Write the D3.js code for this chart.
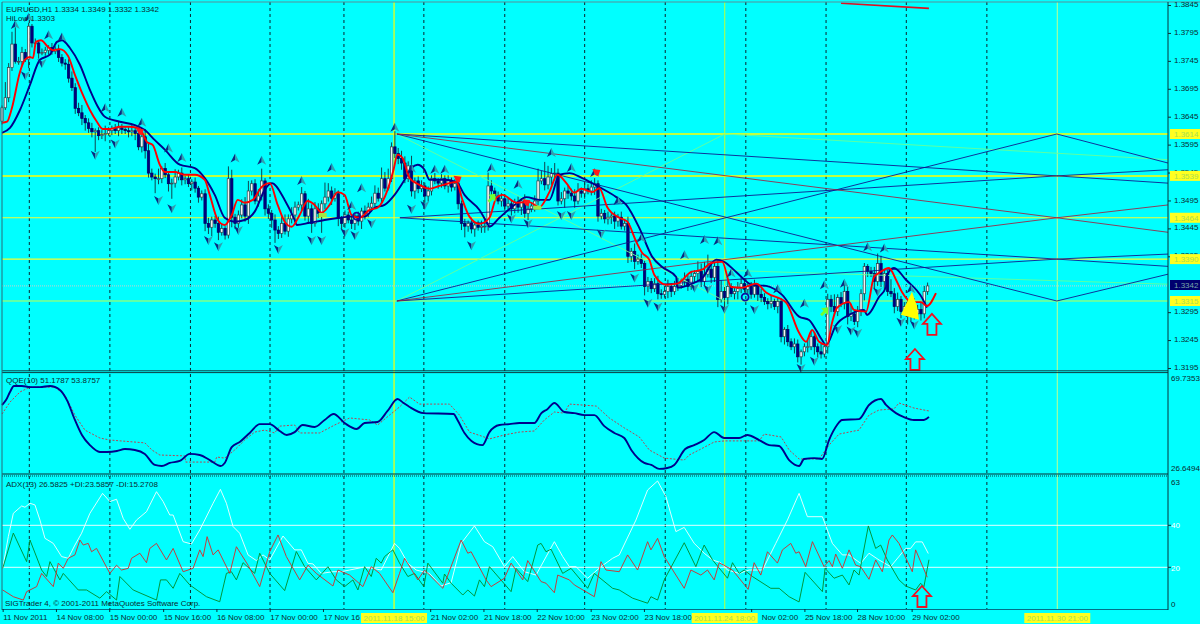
<!DOCTYPE html>
<html><head><meta charset="utf-8">
<script src="https://cdn.jsdelivr.net/npm/d3@7/dist/d3.min.js"></script>
<style>
html,body{margin:0;padding:0;background:#00ffff;overflow:hidden}
svg{display:block}
text{font-family:"Liberation Sans",Arial,sans-serif;font-size:8px;fill:#0b2b30}
</style></head><body><svg id="c" width="1200" height="624"></svg>
<script>
// Prices are in pips above 1.3000
const closes=[661,679,733,775,744,744,760,748,807,777,777,759,760,764,769,762,766,751,741,739,714,697,660,652,642,634,624,618,620,611,613,615,620,624,620,625,622,620,618,620,615,591,609,584,544,537,534,534,552,541,525,526,537,544,532,534,525,528,517,501,507,454,447,460,454,438,445,433,534,465,454,469,487,467,512,525,494,503,530,480,472,460,442,436,454,440,462,469,483,487,507,467,480,454,480,472,489,501,512,499,507,463,454,469,460,454,467,458,476,471,483,490,508,499,534,517,534,591,579,570,562,534,557,512,530,516,521,503,512,534,530,526,534,521,530,519,525,489,454,449,454,444,451,447,449,449,521,512,503,494,498,485,489,480,492,483,494,472,480,485,494,530,534,523,537,543,544,494,498,512,508,503,494,512,508,516,512,519,525,467,472,462,465,467,458,465,449,454,395,404,386,390,382,341,350,337,346,328,327,332,341,332,341,343,350,354,341,359,364,368,350,363,372,357,377,318,332,321,341,328,332,337,346,336,341,327,341,327,321,314,310,314,305,314,251,264,242,233,238,215,224,233,233,251,233,224,220,233,318,305,296,321,310,332,287,292,278,296,328,377,368,364,350,382,350,364,332,328,305,318,296,305,287,314,292,300,292,332,342];
const opens=[637,661,679,733,775,744,744,760,748,807,777,777,759,760,764,769,762,766,751,741,739,714,697,660,652,642,634,624,618,620,611,613,615,620,624,620,625,622,620,618,620,615,591,609,584,544,537,534,534,552,541,525,526,537,544,532,534,525,528,517,501,507,454,447,460,454,438,445,433,534,465,454,469,487,467,512,525,494,503,530,480,472,460,442,436,454,440,462,469,483,487,507,467,480,454,480,472,489,501,512,499,507,463,454,469,460,454,467,458,476,471,483,490,508,499,534,517,534,591,579,570,562,534,557,512,530,516,521,503,512,534,530,526,534,521,530,519,525,489,454,449,454,444,451,447,449,449,521,512,503,494,498,485,489,480,492,483,494,472,480,485,494,530,534,523,537,543,544,494,498,512,508,503,494,512,508,516,512,519,525,467,472,462,465,467,458,465,449,454,395,404,386,390,382,341,350,337,346,328,327,332,341,332,341,343,350,354,341,359,364,368,350,363,372,357,377,318,332,321,341,328,332,337,346,336,341,327,341,327,321,314,310,314,305,314,251,264,242,233,238,215,224,233,233,251,233,224,220,233,318,305,296,321,310,332,287,292,278,296,328,377,368,364,350,382,350,364,332,328,305,318,296,305,287,314,292,300,292,332];
const upperWicks=[4,28,8,22,30,8,10,6,6,4,8,5,7,6,4,8,5,8,6,7,9,12,8,10,14,6,8,10,4,6,8,14,6,5,8,12,7,4,6,10,6,8,5,14,12,8,6,18,4,10,6,8,14,6,10,5,8,5,8,4,6,8,10,6,7,12,8,4,22,16,6,8,10,14,18,6,8,12,22,5,8,6,10,7,12,16,8,14,10,6,12,5,18,8,12,10,6,26,14,8,10,6,4,8,6,10,5,8,6,10,8,12,14,10,20,12,18,8,28,10,14,12,8,18,6,8,10,6,8,6,10,5,8,6,10,6,8,10,6,8,5,10,4,8,10,14,24,10,6,8,10,6,12,8,6,10,5,12,8,6,10,22,14,30,20,10,18,8,12,6,10,8,12,14,6,10,8,12,10,6,8,6,10,5,8,6,10,8,12,6,14,8,10,5,8,6,10,14,8,10,12,6,10,14,6,12,8,10,6,18,14,22,26,12,8,10,20,8,10,6,8,12,14,10,6,8,12,6,10,8,6,10,5,8,6,4,8,6,10,8,4,6,12,10,8,6,14,6,10,8,22,6,10,14,8,18,6,10,8,6,4,8,12,18,14,8,6,22,10,12,6,8,14,10,6,8,12,10,6,12,8,6,8];
const lowerWicks=[6,4,8,6,4,6,8,5,16,8,6,10,4,6,8,6,5,8,6,10,8,6,10,6,12,14,8,10,36,8,6,12,4,8,6,10,8,6,10,8,12,6,10,14,8,6,26,10,8,6,14,27,8,6,10,8,6,12,8,10,6,14,12,16,8,14,6,8,6,18,10,8,6,10,14,8,6,10,8,12,10,14,23,10,8,6,10,8,12,6,10,8,14,17,6,8,35,10,8,12,6,14,10,8,6,10,12,8,14,10,6,8,10,6,8,6,4,6,8,10,12,8,6,10,14,8,6,12,10,8,6,10,8,6,12,8,6,10,12,20,10,8,14,6,10,12,8,14,8,6,10,8,6,12,8,10,14,8,12,6,10,8,6,10,8,14,12,8,6,16,10,8,12,6,8,10,6,8,14,10,6,8,10,12,14,10,6,8,12,10,14,6,8,16,10,8,6,10,8,6,12,10,6,8,6,10,8,6,12,14,10,8,6,10,8,14,6,22,12,6,10,14,8,6,10,8,6,12,8,6,10,8,6,12,10,14,8,6,12,10,14,8,10,6,14,10,8,6,12,10,6,8,6,10,14,8,6,10,8,12,10,6,14,8,10,14,8,6,12,8,12,6,14,8,10,6,12,8,6];
const upFractalBars=[4,8,14,18,31,36,42,50,54,70,78,90,99,105,108,118,123,130,133,147,155,165,171,178,185,192,205,211,215,219,224,233,241,247,253,260,265,273];
const upFractalPips=[809,822,791,787,660,652,634,588,571,570,566,530,553,485,517,625,552,550,550,553,523,580,553,544,494,427,397,424,422,364,364,336,310,343,346,411,409,336];
const downFractalBars=[7,12,28,34,47,51,62,65,71,83,93,96,103,106,111,123,127,141,153,158,168,171,180,190,194,197,208,212,217,226,240,244,251,255,257,263,270,274];
const downFractalPips=[719,741,577,597,496,481,424,413,442,408,424,424,438,433,454,480,487,415,463,454,469,469,436,357,312,305,339,337,301,300,195,208,265,262,258,332,278,273];
const fastBars=[0,1.5,3,5.4,6.9,8.4,9.3,10.2,11.7,13.8,15.3,17.4,19.8,21.9,24.3,26.4,28.5,30.3,32.4,35.4,38.4,41.4,43.5,45.3,47.4,48.9,51.9,54.9,57.9,60.9,62.4,64.8,66.9,69,70.8,72.9,75.3,78,80.4,82.8,84.9,87,89.4,91.8,93.9,96,98.4,100.8,102.9,105,107.4,110.4,112.8,115.8,117.6,118.8,120.3,122.4,125.4,128.4,131.4,136.5,138.3,140.4,143.4,146.4,148.5,150.3,154.5,158.4,161.4,164.4,166.8,169.5,171.9,174,177.3,179.4,181.8,185.4,187.8,190.5,192.3,194.4,195.9,199.5,202.8,207,210.3,213,216.3,219,222.3,226.5,229.5,235.5,239.4,241.5,243.3,245.4,247.8,249.3,250.8,254.4,255.9,259.5,261.9,263.4,266.4,268.5,270.3,273.3,276,277.8,280.5];
const fastPips=[634,636,661,725,747,752,750,779,782,770,764,766,754,720,684,657,636,623,623,627,627,623,600,594,559,546,546,541,541,532,505,460,451,469,496,491,496,519,526,487,457,448,469,494,487,473,487,510,505,469,464,478,482,514,550,577,571,535,523,516,521,528,496,466,453,464,500,505,491,492,483,510,541,526,509,516,510,517,483,464,457,421,401,389,362,344,346,367,371,383,385,340,339,346,330,312,258,242,263,242,236,276,303,313,299,296,358,365,374,353,331,313,313,306,329];
const slowBars=[0,2.4,5.4,8.4,11.4,14.4,16.5,18,20.4,23.4,26.4,28.5,30.9,35.4,39.9,42.9,45.9,48.9,53.4,57.9,60.9,63.9,66.9,69.9,72.9,75.9,78.9,81,84.9,87.9,88.5,92.4,96.9,101.4,104.4,108.9,111.9,114.9,117.9,120.9,123,124.8,126.9,128.4,132.9,136.5,138.9,143.4,145.5,146.4,149.4,153.9,157.5,161.4,164.4,167.4,170.4,174.3,179.4,184.5,187.5,191.4,195.3,198.3,202.5,202.8,206.4,210.3,214.5,216.9,220.5,225.3,229.5,234.3,239.4,242.4,244.5,246.3,247.5,250.5,254.4,258.9,259.8,263.4,265.5,265.6,267.9,271.5,276.3,277.8];
const slowPips=[616,625,657,702,747,756,779,782,768,738,693,666,645,636,630,621,603,586,559,553,535,505,464,457,460,475,514,526,496,460,451,455,460,464,466,466,482,487,505,532,553,559,550,532,532,528,505,478,457,448,464,487,501,496,496,541,544,535,519,501,487,446,394,376,358,339,344,356,389,385,367,344,342,326,287,281,263,245,236,272,290,299,290,322,340,358,374,353,321,303];
const qqeBars=[0,1.2,2.4,3.6,6,8.4,11.4,14.4,17.4,19.5,21.9,24,26.4,29.4,31.5,34.5,36.9,39.9,42.9,45.9,48,50.4,53.4,56.4,59.4,62.4,65.7,66.9,69,71.4,74.4,77.4,80.4,83.4,85.5,87.9,90.3,93.9,96.9,99.6,102.9,106.5,108.9,112.8,115.8,118.8,120.6,122.4,126.6,135.6,136.8,138.9,141,144.3,146.4,149.4,152.4,155.4,159.9,162,163.8,165.9,168.9,171.9,174.9,177.9,180.9,183.9,186.9,189,192.9,195,197.4,199.8,201.9,205.2,207.9,210.9,213.9,216.9,221.4,223.8,227.4,230.4,233.4,236.4,239.4,240.9,243.9,246.3,248.4,250.8,252.3,257.4,260.4,264,265.5,268.5,270.9,273.9,276.9,278.4];
const qqeValues=[56.6,58.8,62.5,65.2,65.2,64.7,64.7,65.2,63.4,58.8,49.8,43,38.4,35.3,35.3,35.7,36.6,36.2,34.4,29.4,28.9,30.3,31.2,34.4,33.9,31.6,28.9,30.3,37.5,39.8,43.9,47.9,47.9,44.8,43,44.3,47.5,46.6,49.8,52.5,48.4,45.7,48.4,48.9,53.9,59.3,57.5,55.7,52.9,52.5,49.8,43.9,40.3,38.4,44.3,47.5,47.9,48.4,48.4,52.9,54.7,57.5,53.4,52.9,52,52,47,43.9,41.6,36.2,30.3,29.4,27.6,28,29.4,36.6,38.4,40.7,44.3,41.6,41.6,43,40.7,38.4,38,31.6,28.9,32.1,32.5,32.1,40.7,47.5,49.8,50.2,56.6,59.3,56.6,52.9,51.1,49.8,49.8,51.18];
const qqeSignalBars=[0,2.4,5.4,8.4,15.9,18.9,21.9,24.9,29.4,32.4,42.9,45,47.4,54.9,55.2,63.9,64.5,66.9,69.9,72.9,75.9,78.9,81.9,83.4,87.9,89.4,95.4,99.9,104.4,110.4,112.8,116.4,119.4,122.4,125.4,134.4,137.4,140.4,144,146.4,150.9,155.4,159.9,162.9,165.9,168.9,170.4,178.5,182.4,186.9,191.4,194.4,198.9,204.9,206.4,209.4,213.9,216.9,227.4,228.9,234,236.4,239.4,245.4,248.4,251.4,257.4,260.4,263.4,267.9,269.4,273.9,278.4];
const qqeSignalValues=[52.5,57.9,62.5,64.7,64.7,61.1,52,45.2,41.6,40.7,39.4,36.2,33.9,33.5,30.7,30.7,33,32.5,36.2,40.7,44.3,45.2,43.9,47,47.5,43.9,43.9,47.5,50.7,49.8,47.5,52,55.7,60.2,57,57,52,44.3,42.5,41.2,43,44.3,44.8,49.8,53.4,52.9,57,56.1,50.7,46.2,42.1,36.2,32.5,31.6,33.9,36.2,39.8,40.3,40.3,43.4,42.1,36.2,32.1,32.1,38.4,43.4,45.2,52,54.3,54.8,57.5,55.2,53.88];
const adxBars=[.2,1.9,3.4,5.9,6.9,8.4,9.9,11.4,12.9,15.4,17.9,19.9,21.9,23.9,26.4,30.2,32.4,34.4,36.4,38.4,40.4,43.4,46.4,48.4,50.4,51.4,54.4,56.9,59.4,63.4,65.6,67.4,69.4,71.4,73.9,76.4,78.4,80.4,84.4,87.9,89.9,91.9,93.4,95.9,99.4,101.9,104.4,108.4,111.4,113.9,115.9,117.9,119.4,121.9,124.4,128.4,131.9,134.9,137.9,141.9,144.9,147.4,150.9,153.4,156.9,160.4,165.9,168.4,170.4,172.4,175.9,179.9,183.4,185.4,190.4,193.9,196.9,199.4,202.4,204.9,207.9,210.9,213.4,215.9,217.9,221.4,224.4,228.4,232.4,235.9,239.4,241.9,246.4,249.4,252.4,254.4,257.9,260.4,263.4,266.9,271.4,272.9,274.4,276.4,278.2];
const adxValues=[19.5,34.6,45.7,49.2,48.6,50.5,49.7,42.5,33.8,31.4,25.1,24.3,30.6,36.2,45.7,55.2,51.3,52.4,43.3,38.1,42.5,46.5,56,51.3,44.9,44.9,32.2,31.1,37.8,50.5,57.1,50.5,39.4,36.2,25.9,23.2,25.9,23.5,34.9,28.3,28.3,21.9,21.6,17.1,17.9,17.9,18.7,20,19.5,18.7,25.1,31.4,29,21.9,18.7,17.1,11.1,12.7,31.4,39.7,32.2,29.8,20.3,25.1,17.9,16.3,32.2,25.1,20.3,20.3,14.8,20.3,24.3,25.9,42.5,56.8,61.1,53.7,37,39,31.4,26.7,23.5,22.2,18.7,17.1,18.7,18.7,31.4,42.5,55.2,44.1,44.1,31.4,25.9,25.9,21.9,26.7,23.5,20.3,29,29,32.1,32.1,26.58];
const minusDiBars=[.2,3.4,6.4,7.4,10.4,11.9,15.4,16.9,18.4,19.9,21.9,23.4,24.4,25.9,26.9,28.4,32.4,34.4,35.9,37.9,38.9,41.4,43.4,44.4,46.4,49.4,51.4,54.4,57.4,59.4,60.4,61.6,63.4,64.9,68.4,70.4,73.9,77.4,80.4,82.9,85.4,89.4,91.9,94.4,99.4,100.9,104.4,108.4,110.9,113.4,117.4,119.4,120.9,124.9,126.9,132.4,137.9,139.9,140.9,145.4,146.9,150.9,152.9,156.4,157.9,161.9,163.4,165.9,166.9,170.4,171.9,177.9,179.9,181.4,185.4,187.9,190.9,193.9,194.9,196.9,198.9,204.9,206.9,209.9,211.9,213.9,215.4,219.4,224.1,225.9,227.9,229.9,232.9,234.4,236.9,238.4,239.4,241.4,243.4,246.9,248.4,249.4,250.4,252.4,254.4,256.4,257.9,260.4,262.4,264.4,266.4,267.4,269.4,273.4,274.4,277.9];
const minusDiValues=[9.2,6,4.4,8.4,10.8,17.1,10.8,22,19.5,24.3,25.9,33,30.6,31.4,27.4,29,17.1,21,18.7,19.5,24.3,26.7,22.2,29,31.4,23.5,29,17.9,19.5,28.3,25.1,34.6,25.9,28.3,17.1,29.8,21,10.8,27.4,35.4,25.1,14,21,17.1,11.1,18.7,16.3,10.8,20.3,17.1,7.9,17.1,24.3,14,18.7,10,33,26.7,27.4,14,10.8,14.8,22,14,23.2,13.2,12.4,7.9,16.3,14,11.6,6,22.7,18.7,17.9,25.9,18.7,32.2,28.3,33.8,25.1,10,18.7,16.3,18.7,14,22.2,18.7,9.5,22.2,16.3,27.4,22,28.3,31.4,26.7,27.4,20.3,32.2,20.3,23.2,20.3,26.3,19.5,28.3,21,20.3,14.3,23.5,17.9,33,35.4,31.4,17.9,28.3,15.27];
const plusDiBars=[.2,3.4,7.4,8.4,11.9,13.4,14.4,17.4,18.4,22.9,25.4,29.4,31.4,34.4,35.4,39.4,46.4,47.6,49.4,51.4,53.4,56.4,61.4,65.4,67.4,68.9,70.4,72.4,75.9,77.4,80.4,84.9,88.4,90.9,94.4,97.9,100.4,102.9,105.4,106.9,108.9,110.9,112.4,113.9,114.9,117.4,119.4,121.9,123.9,126.7,127.9,132.4,132.9,134.9,138.4,139.9,141.9,143.4,144.9,146.4,152.9,154.4,157.9,160.9,161.9,163.4,164.9,168.4,170.9,175.9,177.9,183.4,185.4,189.4,193.9,194.9,196.9,198.9,204.9,208.4,209.9,210.9,213.4,217.9,219.4,221.4,222.9,225.4,230.9,233.4,236.4,239.4,241.2,246.4,247.2,249.9,252.4,254.4,255.9,257.4,260.2,262.4,263.9,265.9,269.4,271.4,274.4,275.9,276.9,278.4];
const plusDiValues=[19.5,36.3,22.7,33,18.7,15.6,22.7,14,17.1,9.2,9.2,5.3,8.4,4.4,15.6,9.2,4.4,14,14,10,17.1,11.6,6,3.6,17.1,17.9,14,22.2,17.1,26.7,17.1,8.9,27.5,20.3,14,20.3,14,10.8,14,9.2,20.3,15.6,24.3,22,25.1,28.3,22,15.6,17.1,10.8,22,12.4,16.8,12.4,6.8,9.2,6.3,14,10.8,20.3,8.4,19.5,13.2,30.6,31.4,27.4,28.6,17.1,19.5,10,17.1,10,9.2,5.3,2.9,6,4.4,14,31.7,20.3,26.7,30.6,23.5,14.8,22.2,17.1,18.7,15.6,10,10,6,3.5,17.6,8.4,19.5,14.8,16.3,11.6,18.7,16.3,39.7,29,30.6,23.5,14,11.1,9.2,12.4,10.8,23.59];
const separatorBars=[8.2,32.4,56.6,80.5,102.7,126.7,151,175,199.2,223.4,247.5,271.6,295.8];
const levels=[1.3614,1.3539,1.3464,1.3390,1.3315];
const lastPrice=1.3342;
const priceTicks=[1.3845,1.3795,1.3745,1.3695,1.3645,1.3595,1.3545,1.3495,1.3445,1.3395,1.3295,1.3245,1.3195];
const timeTickBars=[.2,16.2,32.2,48.4,64.4,80.4,96.4,128.6,144.6,160.6,176.8,192.8,225,241,256.8,273.2];
const timeTickLabels=["11 Nov 2011","14 Nov 08:00","15 Nov 00:00","15 Nov 16:00","16 Nov 08:00","17 Nov 00:00","17 Nov 16","21 Nov 02:00","21 Nov 18:00","22 Nov 10:00","23 Nov 02:00","23 Nov 18:00","Nov 02:00","25 Nov 18:00","28 Nov 10:00","29 Nov 02:00"];
const flagBars=[117.6,216.9,316.8];
const flagLabels=["2011.11.18 15:00","2011.11.24 18:00","2011.11.30 21:00"];
const flagColors=["#ffff00","#9dff5a","#f4ff70"];
// Trend lines: each is bars + pips vertices
const fanBars=[118.6,316.8,350.2], fanBarsB=[119.5,316.8,350.2];
const navyFan=[[315,614,562],[614,315,363],[614,539,550],[315,390,399]];
const navyFanB=[[464,390,377],[464,539,526]];
const redFan=[[614,464,438],[315,464,487]];
const greenBars=[[118.6,217.1],[118.6,217.1],[217.1,350.2],[217.1,350.2]];
const greenPips=[[315,614],[614,315],[614,568],[370,345]];
const topRedBars=[252,278.4], topRedPips=[848,839];
const redMarkBars=[41.4,136.8,178.5,157.5], redMarkPips=[619,534,546,492];
const greenArrowBars=[147,246.9], greenArrowPips=[498,295];
const greenPatchBars=[96.3,160.8], greenPatchPips=[469,482];
const circleBars=[106.5,223.2], circlePips=[467,322];
const redArrowBars=[279.3,274.2], redArrowPips=[292,229];
const adxArrowBar=276.3, adxArrowValue=11.1;
const yellowBar=272.4, yellowPip=303;
const qqeLabels=[69.7353,26.6494], adxTicks=[63,40,20,0];

const svg=d3.select("#c");
const W=1168,L=2;
const x=d3.scaleLinear().domain([0,350.2]).range([L,W]);
const price=d3.scaleLinear().domain([1.3845,1.3195]).range([5,368]);
const py=p=>price(1.3+p/10000);
const qy=d3.scaleLinear().domain([26.6494,69.7353]).range([471,376]);
const ay=d3.scaleLinear().domain([0,63]).range([609.3,477]);
svg.append("rect").attr("width",1200).attr("height",624).attr("fill","#00ffff");

const line=(bars,vals,yf,curve)=>d3.line().x((d,i)=>x(bars[i])).y(d=>yf(d)).curve(curve||d3.curveLinear)(vals);
const hl=(y,x1,x2,c,w)=>svg.append("line").attr("x1",x1).attr("x2",x2).attr("y1",y).attr("y2",y).attr("stroke",c).attr("stroke-width",w);

// vertical separators + flagged vlines
svg.selectAll(".sep").data(separatorBars).join("line").attr("x1",d=>x(d)).attr("x2",d=>x(d)).attr("y1",2).attr("y2",609)
  .attr("stroke","#0a2530").attr("stroke-width",1).attr("stroke-dasharray","3,3");
svg.selectAll(".flag").data(flagBars).join("line").attr("x1",d=>x(d)+0.5).attr("x2",d=>x(d)+0.5).attr("y1",2).attr("y2",609)
  .attr("stroke",(d,i)=>flagColors[i]).attr("stroke-width",(d,i)=>i==2?0.8:1.2);

// main panel: levels
const lvlCols=["#ffff00","#ffff00","#f4ff30","#f4ff30","#bfff50"];
levels.forEach((l,i)=>hl(134+(1.3614-l)*5585,L,W,lvlCols[i],i<2?1.5:1.1));
svg.append("line").attr("x1",L).attr("x2",W).attr("y1",price(lastPrice)).attr("y2",price(lastPrice))
  .attr("stroke","#9fd8d8").attr("stroke-width",1.2).attr("stroke-dasharray","1,1");

// candles
const cw=2.4;
closes.forEach((c,i)=>{
  const o=opens[i],hi=Math.max(o,c)+(upperWicks[i]||0),lo=Math.min(o,c)-(lowerWicks[i]||0),up=c>=o;
  svg.append("line").attr("x1",x(i)).attr("x2",x(i)).attr("y1",py(hi)).attr("y2",py(lo)).attr("stroke","#12303a").attr("stroke-width",0.9);
  svg.append("rect").attr("x",x(i)-cw/2).attr("width",cw).attr("y",py(Math.max(o,c))).attr("height",Math.max(0.8,py(Math.min(o,c))-py(Math.max(o,c))))
    .attr("fill",up?"#f2f2f2":"#000080").attr("stroke",up?"#304048":"#000060").attr("stroke-width",0.7);
});

// trend lines
const tl=(bars,vals,col,w,op,curve)=>svg.append("path").attr("d",line(bars,vals,py,curve)).attr("fill","none").attr("stroke",col).attr("stroke-width",w).attr("opacity",op||1);
greenBars.forEach((b,i)=>tl(b,greenPips[i],"#66ff99",0.9));
navyFan.forEach(v=>tl(fanBars,v,"#10108a",1,0.85));
navyFanB.forEach(v=>tl(fanBarsB,v,"#10108a",1,0.85));
redFan.forEach(v=>tl(fanBars,v,"#a02040",1,0.85));
tl(topRedBars,topRedPips,"#e01020",1.6);

// moving averages
tl(slowBars,slowPips,"#00008b",1.9,1,d3.curveMonotoneX);
tl(fastBars,fastPips,"#ff0000",1.9,1,d3.curveMonotoneX);

// fractal chevrons
const chev=(bars,pips,dir)=>{
  const left=`M0,${-5*dir}L${-4.5},${4*dir}L0,${1.5*dir}Z`, right=`M0,${-5*dir}L4.5,${4*dir}L0,${1.5*dir}Z`;
  const g=svg.selectAll(null).data(bars).join("g").attr("transform",(d,i)=>`translate(${x(d)},${py(pips[i])})`);
  g.append("path").attr("d",left).attr("fill","#0a2a80");
  g.append("path").attr("d",right).attr("fill","#30a0b0");
};
chev(upFractalBars,upFractalPips,1);
chev(downFractalBars,downFractalPips,-1);

// markers
svg.selectAll(null).data(redMarkBars).join("path").attr("transform",(d,i)=>`translate(${x(d)},${py(redMarkPips[i])})`)
  .attr("d","M-4,-3L4,-2L2,4L-1,3Z").attr("fill","#ff1a1a");
svg.selectAll(null).data(greenArrowBars).join("path").attr("transform",(d,i)=>`translate(${x(d)},${py(greenArrowPips[i])})`)
  .attr("d","M4,-5L4,3L1.5,0.5L-2,4L-4,2L-0.5,-1.5L-3,-4Z").attr("fill","#70ff30");
svg.selectAll(null).data(greenPatchBars).join("rect").attr("x",d=>x(d)-4).attr("width",8).attr("y",(d,i)=>py(greenPatchPips[i])-2).attr("height",4).attr("fill","#a0e840");
svg.selectAll(null).data(circleBars).join("circle").attr("cx",d=>x(d)).attr("cy",(d,i)=>py(circlePips[i])).attr("r",3.5).attr("fill","none").attr("stroke","#1010a0").attr("stroke-width",1.8);
svg.append("path").attr("transform",`translate(${x(yellowBar)},${py(yellowPip)})`).attr("d","M3,-16L-8,7L10,12L8,-2Z").attr("fill","#ffff00");
const arrowPath="M0,0L9,10L4.5,10L4.5,21L-4.5,21L-4.5,10L-9,10Z";
const arrow=(px,pyy)=>svg.append("path").attr("transform",`translate(${px},${pyy})`).attr("d",arrowPath).attr("fill","#00ffff").attr("stroke","#f01020").attr("stroke-width",1.8);
redArrowBars.forEach((b,i)=>arrow(x(b),py(redArrowPips[i])));

// panel frames
hl(2,L,W+32,"#5a8f98",1);
hl(370.8,L,W,"#0a2a30",0.9); hl(372.6,L,W,"#0a2a30",0.9);
hl(474,L,W,"#0a2a30",1);
svg.append("line").attr("x1",L).attr("x2",W).attr("y1",476).attr("y2",476).attr("stroke","#0a2a30").attr("stroke-width",0.9).attr("stroke-dasharray","1,1");
hl(609.5,L,W,"#007088",1.2);

// QQE
svg.append("path").attr("d",line(qqeSignalBars,qqeSignalValues,qy)).attr("fill","none").attr("stroke","#c83040").attr("stroke-width",0.9).attr("stroke-dasharray","2,1.6");
svg.append("path").attr("d",line(qqeBars,qqeValues,qy,d3.curveMonotoneX)).attr("fill","none").attr("stroke","#00008b").attr("stroke-width",1.9);

// ADX
[40,20].forEach(v=>hl(ay(v),L,W,"#ffffff",0.9));
const al=(b,v,c,w)=>svg.append("path").attr("d",line(b,v,ay)).attr("fill","none").attr("stroke",c).attr("stroke-width",w);
al(adxBars,adxValues,"#f4ffff",0.9);
al(plusDiBars,plusDiValues,"#008a28",0.9);
al(minusDiBars,minusDiValues,"#d82828",0.9);
arrow(x(adxArrowBar),ay(adxArrowValue));

// borders
svg.append("line").attr("x1",L).attr("x2",L).attr("y1",2).attr("y2",610).attr("stroke","#2a6a78").attr("stroke-width",1);
svg.append("line").attr("x1",W).attr("x2",W).attr("y1",2).attr("y2",610).attr("stroke","#0a3038").attr("stroke-width",1);

// price axis
const pa=svg.append("g").attr("transform",`translate(${W},0)`).call(d3.axisRight(price).tickValues(priceTicks).tickSize(3).tickPadding(3).tickFormat(d3.format(".4f")));
pa.select(".domain").remove(); pa.selectAll("line").attr("stroke","#0a3038");
pa.selectAll("text").attr("dy","0.2em").style("font-size","8px");

// level + last price flags
const flag=(y,label,bg,fg)=>{svg.append("rect").attr("x",1170).attr("y",y-5).attr("width",30).attr("height",10).attr("fill",bg);
  svg.append("text").attr("x",1174).attr("y",y+3).attr("fill",fg).style("fill",fg).text(label);};
levels.forEach(l=>flag(134+(1.3614-l)*5585,l.toFixed(4),"#ffff20","#a8e050"));
flag(285,lastPrice.toFixed(4),"#00006e","#78a8a8");

// QQE + ADX axis text
svg.append("text").attr("x",1171).attr("y",381).text(qqeLabels[0].toFixed(4));
svg.append("text").attr("x",1171).attr("y",471).text(qqeLabels[1].toFixed(4));
adxTicks.forEach(v=>{const yy={63:485,40:528,20:570.5,0:607}[v];
  svg.append("text").attr("x",1171).attr("y",yy).style("fill",(v==40||v==20)?"#ffffff":"#0b2b30").text(v);
  if(v==40||v==20) svg.append("line").attr("x1",W).attr("x2",W+3).attr("y1",ay(v)).attr("y2",ay(v)).attr("stroke","#0a3038");});

// time axis
const ta=svg.append("g").attr("transform","translate(0,609)").call(d3.axisBottom(x).tickValues(timeTickBars).tickSize(3).tickFormat((d,i)=>timeTickLabels[i]));
ta.select(".domain").remove(); ta.selectAll("line").attr("stroke","#0a3038");
ta.selectAll("text").attr("text-anchor","start").attr("x",(d,i)=>timeTickLabels[i]==="Nov 02:00"?10:0).attr("y",4).attr("dy","7px").style("font-size","8px");
flagBars.forEach((b,i)=>{const cx=x(b)+0.5;
  svg.append("rect").attr("x",cx-33).attr("y",613).attr("width",66).attr("height",10).attr("fill","#ffff20");
  svg.append("text").attr("x",cx).attr("y",621).attr("text-anchor","middle").style("fill","#a8e050").text(flagLabels[i]);});

// captions
const cap=(tx,ty,s)=>svg.append("text").attr("x",tx).attr("y",ty).text(s);
cap(6,12,"EURUSD,H1  1.3334 1.3349 1.3332 1.3342");
cap(6,20.5,"HiLow 1.3303");
cap(6,383,"QQE(10) 51.1787 53.8757");
cap(6,487,"ADX(13) 26.5825 +DI:23.5857 -DI:15.2708");
cap(5,606,"SIGTrader 4, © 2001-2011 MetaQuotes Software Corp.");
</script></body></html>
